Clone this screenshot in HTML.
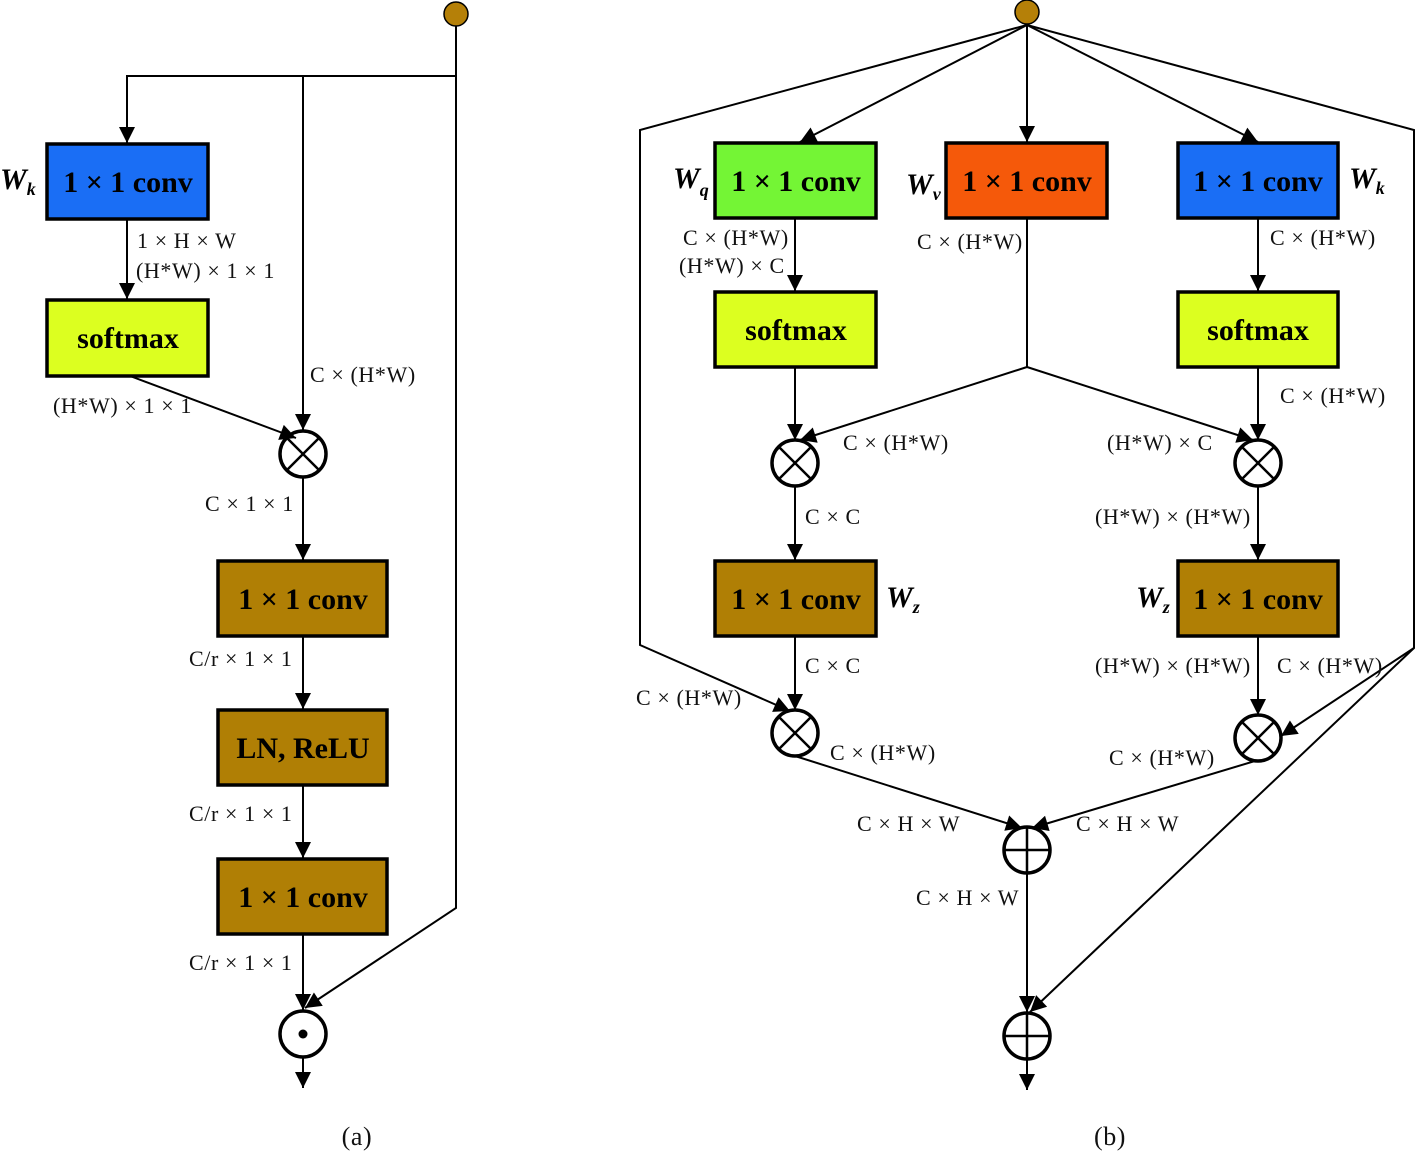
<!DOCTYPE html>
<html><head><meta charset="utf-8"><style>
html,body{margin:0;padding:0;background:#fff;}
svg{display:block;}
.l{font-family:"Liberation Serif",serif;font-size:22px;letter-spacing:0.6px;fill:#111;}
.b{font-family:"Liberation Serif",serif;font-size:30px;font-weight:bold;fill:#000;}
.w{font-family:"Liberation Serif",serif;font-size:30px;font-weight:bold;font-style:italic;fill:#000;}
.ws{font-family:"Liberation Serif",serif;font-size:18px;font-weight:bold;font-style:italic;fill:#000;}
</style></head><body>
<svg width="1416" height="1152" viewBox="0 0 1416 1152" xmlns="http://www.w3.org/2000/svg">
<defs>
<marker id="A" viewBox="0 0 10 10" refX="10" refY="5" markerWidth="18" markerHeight="16" markerUnits="userSpaceOnUse" orient="auto">
<path d="M0,0 L10,5 L0,10 z" fill="#000"/></marker>
</defs>
<!-- operator circles -->
<g stroke="#000" stroke-width="3.5" fill="#fff">
<circle cx="303" cy="454" r="23"/>
<circle cx="303" cy="1034" r="23"/>
<circle cx="795" cy="463" r="23"/>
<circle cx="1258" cy="463" r="23"/>
<circle cx="795" cy="733" r="23"/>
<circle cx="1258" cy="738" r="23"/>
<circle cx="1027" cy="850" r="23"/>
<circle cx="1027" cy="1036" r="23"/>
</g>
<g stroke="#000" stroke-width="2.5">
<path d="M287,438 L319,470 M319,438 L287,470"/>
<path d="M779,447 L811,479 M811,447 L779,479"/>
<path d="M1242,447 L1274,479 M1274,447 L1242,479"/>
<path d="M779,717 L811,749 M811,717 L779,749"/>
<path d="M1242,722 L1274,754 M1274,722 L1242,754"/>
<path d="M1004,850 L1050,850 M1027,827 L1027,873"/>
<path d="M1004,1036 L1050,1036 M1027,1013 L1027,1059"/>
</g>
<circle cx="303" cy="1034" r="4.5" fill="#000"/>
<g stroke="#000" stroke-width="2" fill="none">
<!-- (a) lines -->
<polyline points="456,26 456,908 305,1008" marker-end="url(#A)"/>
<polyline points="456,76 127,76 127,143" marker-end="url(#A)"/>
<line x1="303" y1="76" x2="303" y2="430" marker-end="url(#A)"/>
<line x1="127" y1="219" x2="127" y2="299" marker-end="url(#A)"/>
<line x1="130" y1="376" x2="296" y2="438" marker-end="url(#A)"/>
<line x1="303" y1="478" x2="303" y2="560" marker-end="url(#A)"/>
<line x1="303" y1="636" x2="303" y2="709" marker-end="url(#A)"/>
<line x1="303" y1="785" x2="303" y2="858" marker-end="url(#A)"/>
<line x1="303" y1="934" x2="303" y2="1010" marker-end="url(#A)"/>
<line x1="303" y1="1058" x2="303" y2="1088" marker-end="url(#A)"/>
<!-- (b) lines -->
<polyline points="1027,25 640,130 640,645 790,711" marker-end="url(#A)"/>
<polyline points="1027,25 1414,130 1414,648 1281,736" marker-end="url(#A)"/>
<line x1="1414" y1="648" x2="1030" y2="1012" marker-end="url(#A)"/>
<line x1="1027" y1="25" x2="800" y2="142" marker-end="url(#A)"/>
<line x1="1027" y1="25" x2="1027" y2="142" marker-end="url(#A)"/>
<line x1="1027" y1="25" x2="1258" y2="142" marker-end="url(#A)"/>
<line x1="795" y1="218" x2="795" y2="291" marker-end="url(#A)"/>
<line x1="1258" y1="218" x2="1258" y2="291" marker-end="url(#A)"/>
<polyline points="1027,218 1027,367"/>
<line x1="1027" y1="367" x2="800" y2="440" marker-end="url(#A)"/>
<line x1="1027" y1="367" x2="1253" y2="440" marker-end="url(#A)"/>
<line x1="795" y1="367" x2="795" y2="440" marker-end="url(#A)"/>
<line x1="1258" y1="367" x2="1258" y2="440" marker-end="url(#A)"/>
<line x1="795" y1="486" x2="795" y2="560" marker-end="url(#A)"/>
<line x1="1258" y1="486" x2="1258" y2="560" marker-end="url(#A)"/>
<line x1="795" y1="636" x2="795" y2="710" marker-end="url(#A)"/>
<line x1="1258" y1="636" x2="1258" y2="715" marker-end="url(#A)"/>
<line x1="795" y1="756" x2="1022" y2="828" marker-end="url(#A)"/>
<line x1="1255" y1="761" x2="1032" y2="828" marker-end="url(#A)"/>
<line x1="1027" y1="873" x2="1027" y2="1012" marker-end="url(#A)"/>
<line x1="1027" y1="1060" x2="1027" y2="1090" marker-end="url(#A)"/>
</g>
<!-- dots -->
<circle cx="456" cy="14" r="12" fill="#b58008" stroke="#000" stroke-width="1.5"/>
<circle cx="1027" cy="12" r="12" fill="#b58008" stroke="#000" stroke-width="1.5"/>
<!-- boxes -->
<g stroke="#000" stroke-width="3.5">
<rect x="47" y="144" width="161" height="75" fill="#1a6ef5"/>
<rect x="47" y="300" width="161" height="76" fill="#dcff20"/>
<rect x="218" y="561" width="169" height="75" fill="#b07f05"/>
<rect x="218" y="710" width="169" height="75" fill="#b07f05"/>
<rect x="218" y="859" width="169" height="75" fill="#b07f05"/>
<rect x="715" y="143" width="161" height="75" fill="#74f535"/>
<rect x="946" y="143" width="161" height="75" fill="#f5590a"/>
<rect x="1178" y="143" width="160" height="75" fill="#1a6ef5"/>
<rect x="715" y="292" width="161" height="75" fill="#dcff20"/>
<rect x="1178" y="292" width="160" height="75" fill="#dcff20"/>
<rect x="715" y="561" width="161" height="75" fill="#b07f05"/>
<rect x="1178" y="561" width="160" height="75" fill="#b07f05"/>
</g>
<!-- box text -->
<g class="b" text-anchor="middle">
<text x="128" y="192">1 × 1 conv</text>
<text x="128" y="348">softmax</text>
<text x="303" y="609">1 × 1 conv</text>
<text x="303" y="758">LN, ReLU</text>
<text x="303" y="907">1 × 1 conv</text>
<text x="796" y="191">1 × 1 conv</text>
<text x="1027" y="191">1 × 1 conv</text>
<text x="1258" y="191">1 × 1 conv</text>
<text x="796" y="340">softmax</text>
<text x="1258" y="340">softmax</text>
<text x="796" y="609">1 × 1 conv</text>
<text x="1258" y="609">1 × 1 conv</text>
</g>
<!-- W labels -->
<text class="w" x="0" y="189">W<tspan class="ws" dy="6">k</tspan></text>
<text class="w" x="673" y="188">W<tspan class="ws" dy="8">q</tspan></text>
<text class="w" x="906" y="194">W<tspan class="ws" dy="6">v</tspan></text>
<text class="w" x="1349" y="188">W<tspan class="ws" dy="6">k</tspan></text>
<text class="w" x="886" y="607">W<tspan class="ws" dy="6">z</tspan></text>
<text class="w" x="1136" y="607">W<tspan class="ws" dy="6">z</tspan></text>
<!-- small labels -->
<g class="l">
<text x="137" y="248">1 × H × W</text>
<text x="136" y="278">(H*W) × 1 × 1</text>
<text x="310" y="382">C × (H*W)</text>
<text x="53" y="413">(H*W) × 1 × 1</text>
<text x="205" y="511">C × 1 × 1</text>
<text x="189" y="666">C/r × 1 × 1</text>
<text x="189" y="821">C/r × 1 × 1</text>
<text x="189" y="970">C/r × 1 × 1</text>
<text x="683" y="245">C × (H*W)</text>
<text x="679" y="273">(H*W) × C</text>
<text x="917" y="249">C × (H*W)</text>
<text x="1270" y="245">C × (H*W)</text>
<text x="843" y="450">C × (H*W)</text>
<text x="1280" y="403">C × (H*W)</text>
<text x="1107" y="450">(H*W) × C</text>
<text x="805" y="524">C × C</text>
<text x="1095" y="524">(H*W) × (H*W)</text>
<text x="805" y="673">C × C</text>
<text x="1095" y="673">(H*W) × (H*W)</text>
<text x="1277" y="673">C × (H*W)</text>
<text x="636" y="705">C × (H*W)</text>
<text x="830" y="760">C × (H*W)</text>
<text x="1109" y="765">C × (H*W)</text>
<text x="857" y="831">C × H × W</text>
<text x="1076" y="831">C × H × W</text>
<text x="916" y="905">C × H × W</text>
</g>
<text class="l" x="357" y="1145" text-anchor="middle" style="font-size:26px">(a)</text>
<text class="l" x="1110" y="1145" text-anchor="middle" style="font-size:26px">(b)</text>
</svg>
</body></html>
